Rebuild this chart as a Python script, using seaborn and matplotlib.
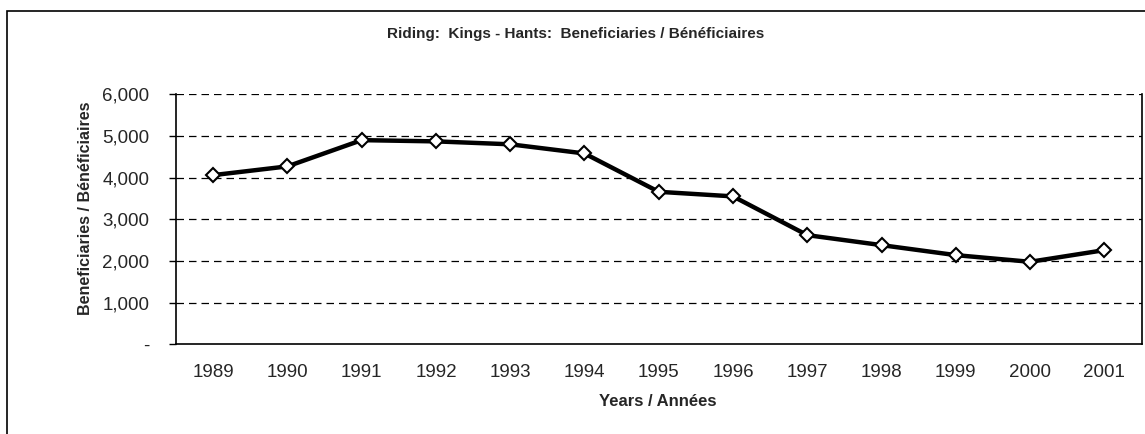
import numpy as np
import pandas as pd
import matplotlib
matplotlib.use('Agg')
import matplotlib.pyplot as plt
import seaborn as sns
from matplotlib.patches import Rectangle
from matplotlib.ticker import FuncFormatter

years = ['1989', '1990', '1991', '1992', '1993', '1994', '1995',
         '1996', '1997', '1998', '1999', '2000', '2001']
beneficiaries = [4060, 4270, 4900, 4870, 4800, 4580, 3660,
                 3550, 2620, 2380, 2140, 1980, 2260]
y_ticks = [0, 1000, 2000, 3000, 4000, 5000, 6000]

title = 'Riding:  Kings - Hants:  Beneficiaries / Bénéficiaires'
x_title = 'Years / Années'
y_title = 'Beneficiaries / Bénéficiaires'

sns.set_style('white')
plt.rcParams['font.family'] = ['Liberation Sans', 'DejaVu Sans']

df = pd.DataFrame({'year': years, 'value': beneficiaries})

fig = plt.figure(figsize=(11.45, 4.34), dpi=100)
ax = fig.add_axes([176 / 1145, 1 - 344.3 / 434, (1141.5 - 176) / 1145, (344.3 - 94.3) / 434])

sns.lineplot(data=df, x='year', y='value', ax=ax, color='black', linewidth=3.2,
             marker='D', markersize=7.5, markerfacecolor='white',
             markeredgecolor='black', markeredgewidth=1.5, sort=False)

ax.set_xlim(-0.5, len(years) - 0.5)
ax.set_ylim(0, 6000)
ax.set_yticks(y_ticks)
ax.yaxis.set_major_formatter(FuncFormatter(lambda v, p: '-' if v == 0 else f'{int(v):,}'))
ax.set_xticks(range(len(years)))
ax.set_xticklabels(years)
ax.set_xticks(np.arange(-0.5, len(years)), minor=True)
ax.tick_params(axis='x', which='major', length=0, pad=14, labelsize=13.5)
ax.tick_params(axis='x', which='minor', length=5, width=1, direction='out', color='black')
ax.tick_params(axis='y', length=5, width=1, direction='out', color='black', labelsize=13.5, pad=14)
ax.yaxis.set_ticks_position('left')

ax.grid(False)
for v in y_ticks[1:]:
    ax.axhline(v, color='black', linewidth=0.9, linestyle=(0, (6, 4)), zorder=0)

for side in ['left', 'bottom', 'right']:
    ax.spines[side].set_visible(True)
    ax.spines[side].set_color('black')
    ax.spines[side].set_linewidth(1.2)
ax.spines['top'].set_visible(False)

ax.set_xlabel('')
ax.set_ylabel('')
fig.text(576 / 1145, 1 - 34 / 434, title, ha='center', va='center',
         fontsize=11, fontweight='bold')
fig.text(658 / 1145, 1 - 402 / 434, x_title, ha='center', va='center',
         fontsize=12, fontweight='bold')
fig.text(85 / 1145, 1 - 208 / 434, y_title, ha='center', va='center', rotation=90,
         fontsize=11.5, fontweight='bold')

fig.patches.append(Rectangle((7 / 1145, -0.1), 1.2, 1.1 - 11 / 434, transform=fig.transFigure,
                             fill=False, edgecolor='black', linewidth=1.2))

fig.savefig('out.png', dpi=100, facecolor='white')
